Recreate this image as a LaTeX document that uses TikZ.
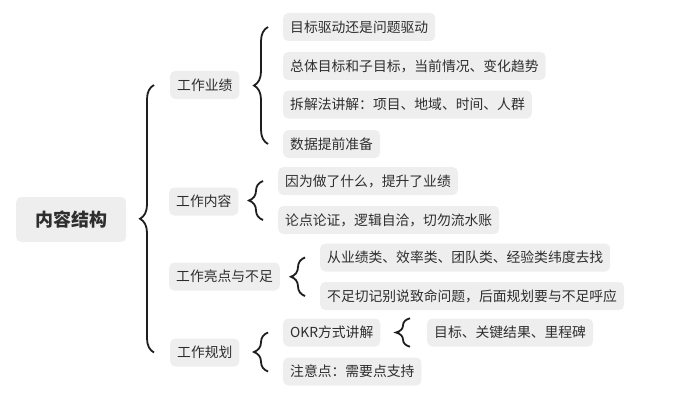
\documentclass[tikz,border=0pt]{standalone}
\usepackage{fontspec}
\setmainfont{Noto Sans CJK SC}
\usepackage{xcolor}
\usetikzlibrary{decorations.pathreplacing}
\definecolor{boxgray}{HTML}{EEEEEE}
\definecolor{txtgray}{HTML}{2E2E2E}
\definecolor{brcdark}{HTML}{1E1E1E}

\begin{document}
\begin{tikzpicture}[x=1pt, y=-1pt,
  box/.style={fill=boxgray, text=txtgray, rounded corners=5pt, inner xsep=7pt, inner ysep=0pt, minimum height=28pt, anchor=west, font=\fontsize{13.8}{16}\selectfont},
  rootbox/.style={box, inner xsep=19pt, minimum height=45pt, font=\fontsize{18}{22}\selectfont\bfseries},
  brc/.style={draw=brcdark, line width=1.8pt, decorate, decoration={brace, amplitude=14pt}}]
\useasboundingbox (0,0) rectangle (680,404);
\node[rootbox] (root) at (16,219.5) {内容结构};
\node[box] (k1) at (170,85) {工作业绩};
\node[box] (k2) at (169,201.5) {工作内容};
\node[box] (k3) at (169,276.5) {工作亮点与不足};
\node[box] (k4) at (170,352.5) {工作规划};
\node[box] (a1) at (283,27) {目标驱动还是问题驱动};
\node[box] (a2) at (283,66) {总体目标和子目标，当前情况、变化趋势};
\node[box] (a3) at (283,104.5) {拆解法讲解：项目、地域、时间、人群};
\node[box] (a4) at (283,144) {数据提前准备};
\node[box] (b1) at (278,181) {因为做了什么，提升了业绩};
\node[box] (b2) at (278,220) {论点论证，逻辑自洽，切勿流水账};
\node[box] (c1) at (320,257.5) {从业绩类、效率类、团队类、经验类纬度去找};
\node[box] (c2) at (320,296) {不足切记别说致命问题，后面规划要与不足呼应};
\node[box] (d1) at (283,332.5) {OKR方式讲解};
\node[box] (d2) at (283,371.5) {注意点：需要点支持};
\node[box] (e1) at (427,332.5) {目标、关键结果、里程碑};
\draw[brc] ([xshift=-16pt]k4.west) -- ([xshift=-16pt]k1.west);
\draw[brc] ([xshift=-15pt]a4.west) -- ([xshift=-15pt]a1.west);
\draw[brc] ([xshift=-15pt]b2.west) -- ([xshift=-15pt]b1.west);
\draw[brc] ([xshift=-15pt]c2.west) -- ([xshift=-15pt]c1.west);
\draw[brc] ([xshift=-15pt]d2.west) -- ([xshift=-15pt]d1.west);
\draw[brc] ([xshift=-17pt]e1.south west) -- ([xshift=-17pt]e1.north west);
\end{tikzpicture}
\end{document}
